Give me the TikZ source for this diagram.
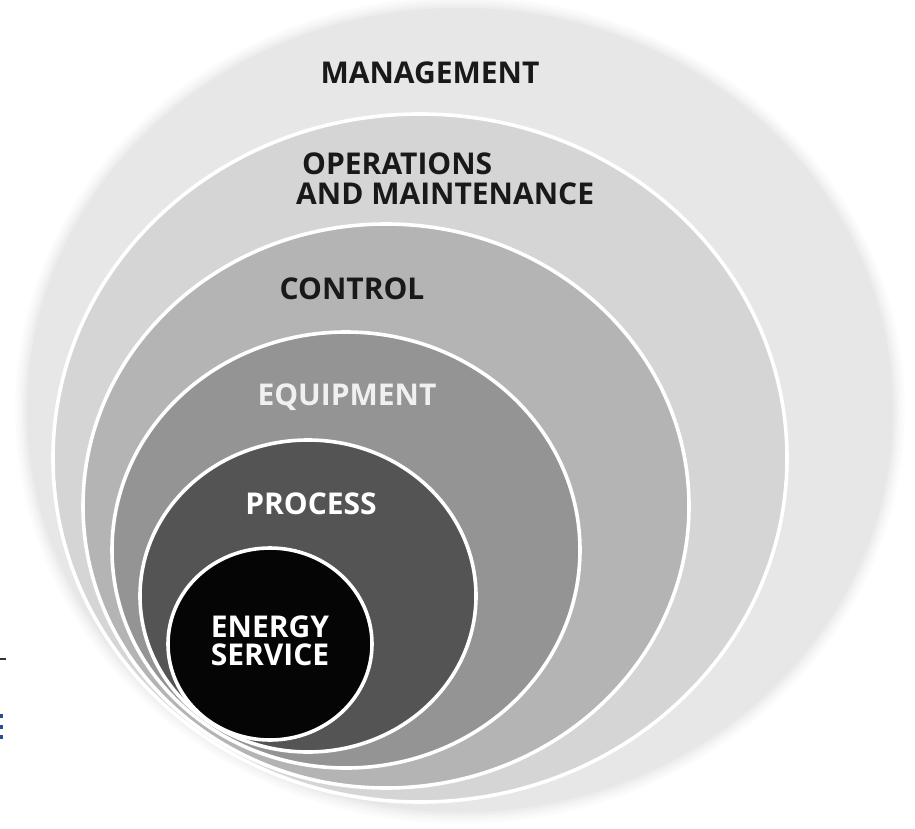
\documentclass[tikz,border=0pt]{standalone}
\usepackage{fontspec}
\setmainfont{Open Sans}
\begin{document}
\begin{tikzpicture}[x=1pt,y=-1pt,
  band/.style={draw=white,line width=3.6pt},
  lbl/.style={font=\fontsize{30}{32}\selectfont\bfseries,inner sep=0pt,text height=21.4pt,text depth=0pt},
  dark/.style={lbl,text=black!90},
  light/.style={lbl,text=white},
  twoline/.style={font=\fontsize{30}{30.5}\selectfont\bfseries,inner sep=0pt,align=left,text=black!90}]
\useasboundingbox (0,0) rectangle (915,829);
\definecolor{cMan}{gray}{0.905}
\definecolor{cOM}{gray}{0.835}
\definecolor{cCtl}{gray}{0.705}
\definecolor{cEq}{gray}{0.58}
\definecolor{cPr}{gray}{0.33}
\definecolor{cEn}{gray}{0.02}
\definecolor{cBlue}{HTML}{2B4C9B}
% soft outer edge
\foreach \k/\p in {12/1,10/2,8/3,6/4.5,4/6,2/7.5}{
  \fill[black!\p] (460,410) ellipse [x radius=433pt+\k pt, y radius=402pt+\k pt];
}
\fill[cMan] (460,410) ellipse [x radius=433pt, y radius=402pt];
\filldraw[band,fill=cOM] (420,458) ellipse [x radius=367pt, y radius=344pt];
\filldraw[band,fill=cCtl] (386,506) ellipse [x radius=303pt, y radius=282pt];
\filldraw[band,fill=cEq] (346,550) ellipse [x radius=234pt, y radius=218pt];
\filldraw[band,fill=cPr] (308,596) ellipse [x radius=168pt, y radius=156pt];
\filldraw[band,fill=cEn] (270,644) ellipse [x radius=102pt, y radius=96pt];
% labels
\node[dark] (man) at (430,73) {MANAGEMENT};
\node[twoline,anchor=north west] (ops) at (296,152.5) {\hspace*{6pt}OPERATIONS\\AND MAINTENANCE};
\node[dark] (ctl) at (352,289) {CONTROL};
\node[light,text=black!6] (eq) at (347,395) {EQUIPMENT};
\node[light] (pr) at (311,504) {PROCESS};
\node[light,text height=49.4pt,align=center,font=\fontsize{30}{28}\selectfont\bfseries] (en) at (270,641) {ENERGY\\SERVICE};
% cropped marks at left edge
\draw[line width=1.2pt,black!80] (0,659) -- (6,659);
\fill[cBlue] (0,714) rectangle (2.5,717.5);
\fill[cBlue] (0,725) rectangle (2.5,729);
\fill[cBlue] (0,735) rectangle (2.5,739);
\end{tikzpicture}
\end{document}
